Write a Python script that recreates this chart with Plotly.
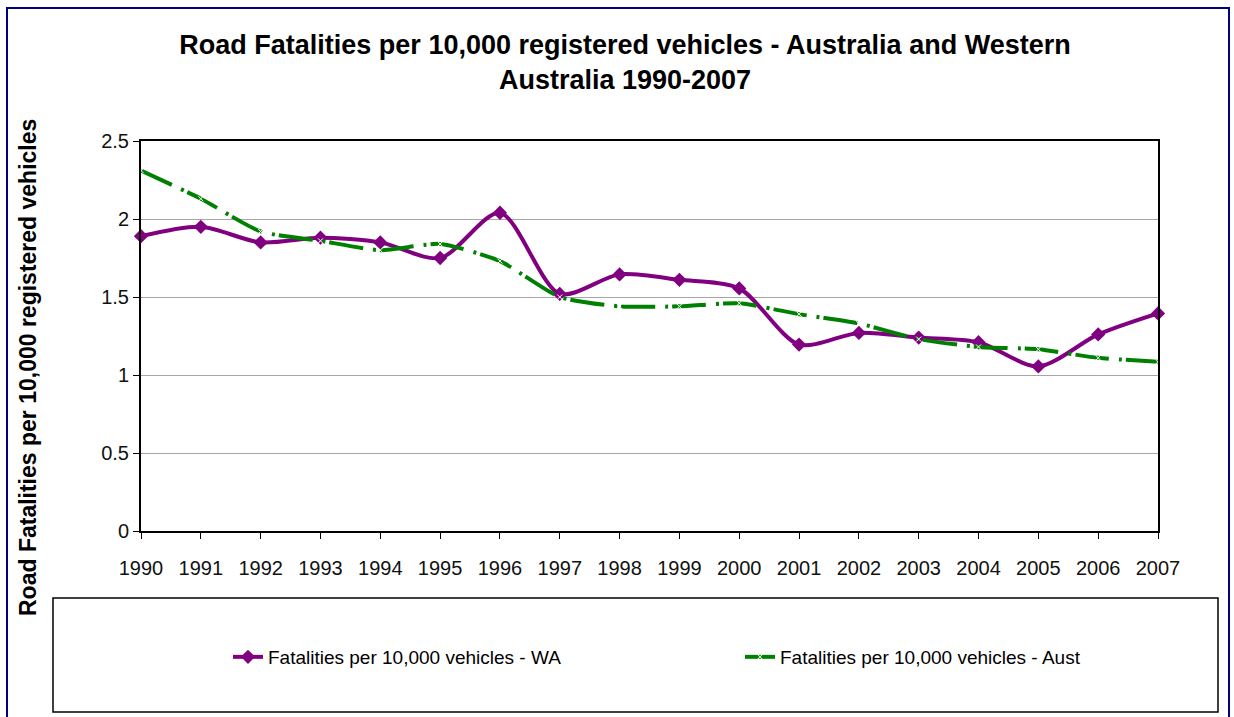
import plotly.graph_objects as go

years = [1990, 1991, 1992, 1993, 1994, 1995, 1996, 1997, 1998, 1999,
         2000, 2001, 2002, 2003, 2004, 2005, 2006, 2007]
wa_rate = [1.89, 1.95, 1.85, 1.88, 1.85, 1.75, 2.04, 1.52, 1.645, 1.61,
           1.555, 1.195, 1.27, 1.24, 1.21, 1.055, 1.26, 1.395]
aust_rate = [2.31, 2.13, 1.92, 1.86, 1.80, 1.84, 1.73, 1.50, 1.44, 1.44,
             1.46, 1.39, 1.33, 1.23, 1.18, 1.165, 1.11, 1.085]
y_ticks = [0, 0.5, 1, 1.5, 2, 2.5]
y_tick_labels = ["0", "0.5", "1", "1.5", "2", "2.5"]

title_text = ("Road Fatalities per 10,000 registered vehicles - Australia and Western<br>"
              "Australia 1990-2007")
y_title = "Road Fatalities per 10,000 registered vehicles"
name_wa = "Fatalities per 10,000 vehicles - WA"
name_aust = "Fatalities per 10,000 vehicles - Aust"

FONT = "Liberation Sans, Arial, sans-serif"

fig = go.Figure()
fig.add_trace(go.Scatter(
    x=years, y=wa_rate, name=name_wa, mode="lines+markers",
    line=dict(color="#800080", width=4, shape="spline", smoothing=0.8),
    marker=dict(symbol="diamond", size=11, color="#800080"),
    cliponaxis=False, legend="legend",
))
fig.add_trace(go.Scatter(
    x=years, y=aust_rate, name=name_aust, mode="lines+markers",
    line=dict(color="#008000", width=4, shape="spline", smoothing=0.6,
              dash="34px,10px,3px,4px"),
    marker=dict(symbol="x-thin-open", size=5, color="white",
                line=dict(color="white", width=1)),
    cliponaxis=False, legend="legend2",
))

W, H = 1234, 717
L, R, T, B = 141, 1158, 141, 531
pw, ph = R - L, B - T


def px_x(p):
    return (p - L) / pw


def px_y(p):
    return (B - p) / ph


legend_common = dict(orientation="h", xanchor="left", yanchor="middle",
                     y=px_y(657),
                     font=dict(family=FONT, size=19, color="black"),
                     bgcolor="rgba(0,0,0,0)", borderwidth=0, itemwidth=30)

fig.update_layout(
    width=W, height=H,
    margin=dict(l=L, r=W - R, t=T, b=H - B),
    paper_bgcolor="white", plot_bgcolor="white",
    font=dict(family=FONT, color="black"),
    title=dict(text=title_text, x=625 / W, xanchor="center",
               y=1 - 54 / H, yanchor="top", yref="container",
               font=dict(family=FONT, size=27, color="black", weight="bold")),
    showlegend=True,
    legend=dict(x=px_x(228), **legend_common),
    legend2=dict(x=px_x(740), **legend_common),
    xaxis=dict(range=[1990, 2007], tickmode="array", tickvals=years,
               ticktext=[str(y) for y in years],
               showgrid=False, zeroline=False,
               showline=True, linecolor="black", linewidth=2, mirror=True,
               ticks="outside", ticklen=6, tickcolor="black", tickwidth=1,
               ticklabelstandoff=12,
               tickfont=dict(family=FONT, size=20, color="#111"),
               fixedrange=True),
    yaxis=dict(range=[0, 2.5], tickmode="array", tickvals=y_ticks,
               ticktext=y_tick_labels,
               showgrid=True, gridcolor="#a6a6a6", gridwidth=1,
               zeroline=False,
               showline=True, linecolor="black", linewidth=2, mirror=True,
               ticks="outside", ticklen=6, tickcolor="black", tickwidth=1,
               tickfont=dict(family=FONT, size=20, color="#111"),
               fixedrange=True),
)

# y-axis title (positioned as in the reference, centred on the chart area)
fig.add_annotation(text=y_title, textangle=-90, xref="paper", yref="paper",
                   x=px_x(28), y=px_y(368), xanchor="center", yanchor="middle",
                   showarrow=False,
                   font=dict(family=FONT, size=23, color="black", weight="bold"))

# legend box
fig.add_shape(type="rect", xref="paper", yref="paper",
              x0=px_x(53), x1=px_x(1218), y0=px_y(598), y1=px_y(712),
              line=dict(color="black", width=1.5), fillcolor="rgba(0,0,0,0)",
              layer="below")
# outer chart frame
fig.add_shape(type="rect", xref="paper", yref="paper",
              x0=px_x(7), x1=px_x(1229), y0=px_y(725), y1=px_y(8),
              line=dict(color="#000080", width=2), fillcolor="rgba(0,0,0,0)",
              layer="below")

fig.write_html("out.html", config={"displayModeBar": False},
               post_script="document.body.style.margin='0px';")
